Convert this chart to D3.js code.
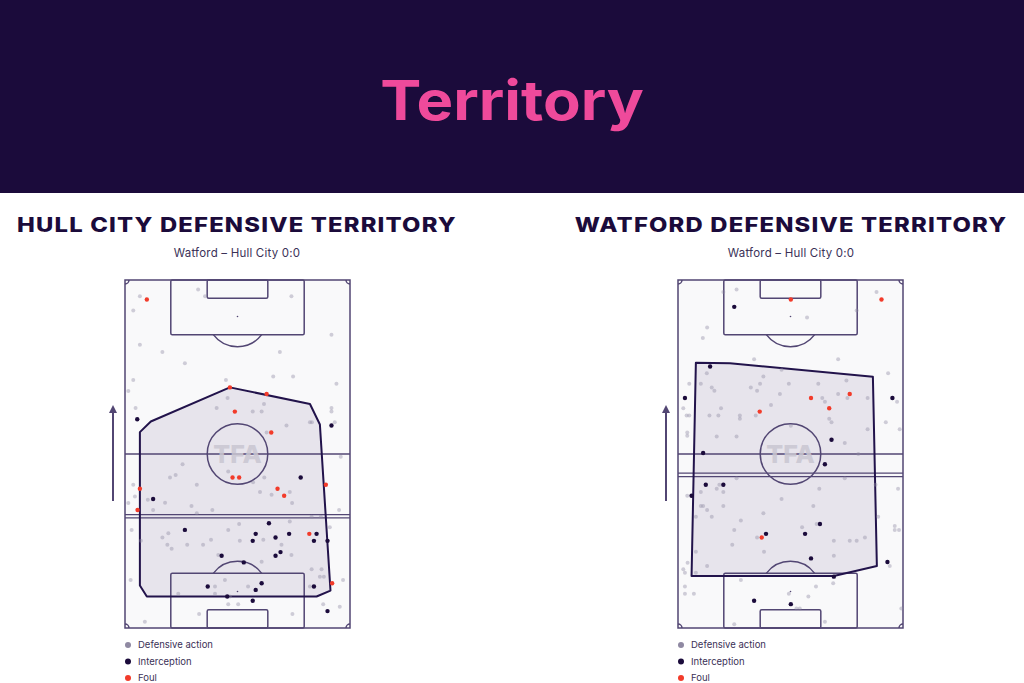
<!DOCTYPE html>
<html><head><meta charset="utf-8">
<script src="https://cdn.jsdelivr.net/npm/d3@7"></script>
<style>
html,body{margin:0;padding:0;background:#fff;}
svg{display:block;}
</style></head>
<body>
<svg id="c" width="1024" height="683"></svg>
<script>
// ---------- DATA (pitch coordinates in metres: x across 0-68, y along 0-105, attacking upwards) ----------
const mainTitle = "Territory";
const teamTitles = ["HULL CITY DEFENSIVE TERRITORY", "WATFORD DEFENSIVE TERRITORY"];
const matchLabel = "Watford – Hull City 0:0";
const legendLabels = ["Defensive action", "Interception", "Foul"];

const hullDefensive = [[22.1,102.1],[24.2,100.1],[50.3,100.1],[4.5,100.1],[2.5,95.8],[62.4,88.5],[4.5,85.5],[11.3,83.3],[46.8,83.3],[18.1,79.9],[44.8,75.9],[50.8,75.9],[2.5,74.8],[30.5,74.8],[63.9,73.7],[1.0,71.5],[31.0,69.4],[42.0,67.6],[27.7,66.4],[3.2,66.4],[62.4,66.4],[62.4,65.3],[38.6,65.3],[41.3,65.3],[55.9,62.1],[56.5,62.1],[63.4,62.1],[48.8,61.1],[42.8,59.0],[65.2,51.7],[17.4,49.4],[15.3,46.2],[13.6,45.4],[31.2,47.2],[42.1,45.4],[38.7,44.0],[21.7,43.2],[2.5,43.2],[40.8,41.0],[49.8,41.0],[44.3,40.2],[3.0,39.7],[6.9,38.7],[12.1,37.8],[50.5,37.7],[1.0,37.7],[20.1,36.8],[8.5,35.6],[26.4,35.6],[64.7,35.6],[21.7,34.6],[59.2,33.6],[56.4,33.6],[49.8,32.1],[34.5,31.4],[61.9,30.4],[2.0,29.6],[31.2,29.6],[13.1,28.6],[11.3,27.3],[4.8,26.3],[26.0,26.6],[41.8,26.6],[34.7,26.3],[12.8,25.1],[14.1,23.9],[18.8,25.1],[23.6,25.1],[47.3,25.1],[28.2,22.0],[50.3,22.0],[41.3,20.0],[56.4,17.7],[59.4,17.7],[60.1,15.5],[65.9,14.5],[58.9,15.5],[30.2,14.5],[27.2,12.5],[37.2,12.5],[55.9,12.5],[1.7,14.5],[27.2,10.3],[16.1,10.3],[31.7,9.5],[31.2,7.2],[34.2,7.2],[59.9,7.2],[22.4,4.2],[50.6,4.2],[6.0,1.9],[64.9,6.4]];
const hullInterceptions = [[3.7,63.0],[62.4,61.1],[53.1,45.4],[8.5,38.9],[43.5,31.6],[18.1,29.6],[39.5,28.4],[45.5,27.3],[49.6,28.4],[57.9,28.4],[38.6,26.3],[57.1,26.3],[61.2,26.3],[29.2,21.8],[45.5,21.8],[47.0,22.9],[35.9,19.8],[41.3,13.5],[25.0,12.5],[39.5,11.5],[30.9,9.5],[38.6,8.2],[57.1,12.5],[61.2,5.1]];
const hullFouls = [[6.6,99.1],[31.7,72.6],[42.8,70.6],[33.2,65.3],[44.2,59.0],[32.5,45.4],[34.5,45.4],[4.5,42.0],[46.1,42.0],[48.1,39.9],[3.8,35.6],[60.7,43.2],[55.7,28.4],[62.6,13.5]];
const hullTerritory = [[4.5,59.1],[7.8,62.3],[31.7,72.6],[55.9,67.6],[58.9,61.4],[62.1,11.3],[57.9,9.5],[6.6,9.5],[4.5,12.8]];
const hullLine = 33.7;

const watDefensive = [[17.7,102.1],[13.7,101.4],[60.0,101.4],[54.0,95.8],[39.0,93.7],[8.8,90.7],[7.5,87.5],[23.0,81.1],[48.4,81.1],[31.3,77.9],[8.7,76.9],[63.5,76.9],[25.8,75.9],[50.9,74.7],[3.4,73.7],[6.9,73.7],[24.8,73.7],[33.5,73.7],[42.4,73.7],[10.2,72.6],[11.0,71.6],[22.0,72.6],[23.9,71.6],[30.8,70.6],[48.4,70.6],[57.3,69.4],[51.2,69.4],[43.6,69.4],[44.4,68.3],[66.2,68.3],[28.1,67.3],[1.6,66.3],[13.0,66.3],[23.5,64.1],[2.6,64.1],[3.4,64.1],[9.5,64.1],[12.2,64.1],[18.7,64.1],[18.7,63.1],[45.7,63.1],[46.4,62.1],[62.8,62.1],[34.1,61.0],[57.3,60.0],[67.0,60.0],[2.8,59.0],[2.8,58.0],[11.7,57.8],[17.7,57.8],[50.4,55.8],[54.5,52.5],[17.7,45.2],[50.4,45.2],[59.7,43.2],[12.5,43.2],[11.7,42.0],[42.7,42.0],[66.5,42.0],[13.7,41.0],[6.9,41.0],[2.8,39.9],[31.3,38.9],[6.9,36.8],[7.6,36.8],[13.7,36.8],[40.9,36.8],[8.8,35.6],[25.8,34.6],[5.4,33.6],[10.2,33.6],[60.5,33.6],[19.0,32.4],[41.9,31.4],[65.5,30.8],[65.5,29.6],[66.8,29.6],[37.5,30.4],[17.0,29.6],[23.9,27.3],[56.5,27.3],[54.0,26.3],[51.9,26.3],[47.1,26.3],[16.4,25.1],[5.4,23.0],[47.1,21.8],[26.0,23.0],[8.8,18.7],[2.9,19.7],[1.6,17.7],[2.1,16.7],[5.4,16.7],[64.0,18.7],[19.0,14.5],[46.9,13.5],[41.7,12.5],[2.1,12.5],[2.1,10.3],[4.8,10.3],[33.5,10.3],[39.4,9.5],[35.8,5.9],[36.8,5.9],[67.5,5.9],[44.4,1.9],[17.0,1.1]];
const watInterceptions = [[17.0,96.9],[9.7,78.9],[2.1,69.4],[64.8,69.4],[46.4,56.8],[7.6,52.8],[44.4,49.4],[8.4,43.2],[13.7,43.2],[4.1,39.9],[42.9,31.4],[26.6,28.4],[38.4,28.4],[40.2,21.0],[63.3,19.9],[47.1,15.5],[23.0,8.2],[34.1,7.2]];
const watFouls = [[34.1,99.1],[61.5,99.1],[40.2,69.4],[51.9,70.6],[45.7,66.3],[24.7,65.3],[25.3,27.3]];
const watTerritory = [[5.4,80.0],[15.7,79.9],[58.9,75.8],[60.1,18.7],[47.1,15.7],[4.1,15.7]];
const watLine = 46.2;

// ---------- STYLE ----------
const C = {
  header: "#1b0b3b", pink: "#ef4a9b", ink: "#1b0b3b", sub: "#3b3157",
  line: "#524673", hullStroke: "#22134b", hullFill: "#e7e4ec", pitch: "#f9f9fa",
  grey: "#8f89a2", dark: "#1b0b3b", red: "#f23b2a"
};
const svg = d3.select("#c");
svg.append("rect").attr("x",0).attr("y",0).attr("width",1024).attr("height",683).attr("fill","#fff");
svg.append("rect").attr("x",0).attr("y",0).attr("width",1024).attr("height",193).attr("fill",C.header);
svg.append("g").attr("transform","translate(512,120) scale(1.12,1)")
  .append("text").attr("x",0).attr("y",0).attr("text-anchor","middle")
  .attr("font-family","Inter, 'Open Sans', sans-serif").attr("font-weight",700).attr("font-size",55)
  .attr("fill",C.pink).text(mainTitle);

const defs = svg.append("defs");
defs.append("marker").attr("id","arrow").attr("viewBox","0 0 10 10").attr("refX",5).attr("refY",5)
  .attr("markerWidth",4).attr("markerHeight",4).attr("orient","auto")
  .append("path").attr("d","M0,0 L10,5 L0,10 Z").attr("fill",C.line);

function panel(cx, x0, title, defensive, interceptions, fouls, territory, lineY) {
  const g = svg.append("g");
  g.append("g").attr("transform",`translate(${cx},231.5) scale(1.19,1)`)
    .append("text").attr("x",0).attr("y",0).attr("text-anchor","middle")
    .attr("font-family","Inter, sans-serif").attr("font-weight",800).attr("font-size",20)
    .attr("letter-spacing",1).attr("fill",C.ink).text(title);
  g.append("text").attr("x",cx).attr("y",257).attr("text-anchor","middle")
    .attr("font-family","Inter, sans-serif").attr("font-size",11.5).attr("letter-spacing",0.2).attr("fill",C.sub).text(matchLabel);

  const x = d3.scaleLinear().domain([0,68]).range([x0, x0+225]);
  const y = d3.scaleLinear().domain([0,105]).range([628, 280]);
  const k = (x(1)-x(0));

  g.append("rect").attr("x",x(0)).attr("y",y(105)).attr("width",x(68)-x(0)).attr("height",y(0)-y(105)).attr("fill",C.pitch);

  const line = d3.line().x(d=>x(d[0])).y(d=>y(d[1])).curve(d3.curveLinearClosed);
  g.append("path").attr("d",line(territory)).attr("fill",C.hullFill);

  const L = g.append("g").attr("fill","none").attr("stroke",C.line).attr("stroke-width",1.5);
  L.append("rect").attr("x",x(0)).attr("y",y(105)).attr("width",x(68)-x(0)).attr("height",y(0)-y(105));
  L.append("line").attr("x1",x(0)).attr("x2",x(68)).attr("y1",y(52.5)).attr("y2",y(52.5));
  L.append("circle").attr("cx",x(34)).attr("cy",y(52.5)).attr("r",9.15*k);
  [[0,16.5],[88.5,105]].forEach(b=>{
    L.append("rect").attr("x",x(13.84)).attr("y",y(b[1])).attr("width",x(54.16)-x(13.84)).attr("height",y(b[0])-y(b[1])).attr("rx",1.5);
  });
  [[0,5.5],[99.5,105]].forEach(b=>{
    L.append("rect").attr("x",x(24.84)).attr("y",y(b[1])).attr("width",x(43.16)-x(24.84)).attr("height",y(b[0])-y(b[1])).attr("rx",1.5);
  });
  const a = Math.asin(5.5/9.15);
  const p1 = d3.path(); p1.arc(x(34), y(94), 9.15*k, a, Math.PI-a);
  const p2 = d3.path(); p2.arc(x(34), y(11), 9.15*k, Math.PI+a, 2*Math.PI-a);
  L.append("path").attr("d",p1.toString());
  L.append("path").attr("d",p2.toString());
  const corners = [[0,105,0,Math.PI/2],[68,105,Math.PI/2,Math.PI],[0,0,-Math.PI/2,0],[68,0,Math.PI,1.5*Math.PI]];
  corners.forEach(c=>{ const p=d3.path(); p.arc(x(c[0]),y(c[1]),1.2*k,c[2],c[3]); L.append("path").attr("d",p.toString()); });
  g.append("circle").attr("cx",x(34)).attr("cy",y(94)).attr("r",0.8).attr("fill",C.line);
  g.append("circle").attr("cx",x(34)).attr("cy",y(11)).attr("r",0.8).attr("fill",C.line);

  g.append("text").attr("x",x(34)).attr("y",y(52.5)+9).attr("text-anchor","middle")
    .attr("font-family","Inter, sans-serif").attr("font-weight",800).attr("font-size",25)
    .attr("fill","#c9c6d1").attr("opacity",0.85).text("TFA");

  [lineY+0.5, lineY-0.5].forEach(v=>{
    g.append("line").attr("x1",x(0)).attr("x2",x(68)).attr("y1",y(v)).attr("y2",y(v))
      .attr("stroke",C.line).attr("stroke-width",1.2);
  });

  g.append("path").attr("d",line(territory)).attr("fill","none").attr("stroke",C.hullStroke).attr("stroke-width",2).attr("stroke-linejoin","round");

  g.append("line").attr("x1",x0-12).attr("x2",x0-12).attr("y1",501).attr("y2",409)
    .attr("stroke",C.line).attr("stroke-width",2).attr("marker-end","url(#arrow)");

  g.append("g").selectAll("circle").data(defensive).join("circle")
    .attr("cx",d=>x(d[0])).attr("cy",d=>y(d[1])).attr("r",2).attr("fill",C.grey).attr("opacity",0.4);
  g.append("g").selectAll("circle").data(interceptions).join("circle")
    .attr("cx",d=>x(d[0])).attr("cy",d=>y(d[1])).attr("r",2.2).attr("fill",C.dark);
  g.append("g").selectAll("circle").data(fouls).join("circle")
    .attr("cx",d=>x(d[0])).attr("cy",d=>y(d[1])).attr("r",2.2).attr("fill",C.red);

  const cols = [C.grey, C.dark, C.red];
  legendLabels.forEach((t,i)=>{
    const ly = 645 + i*16.5;
    g.append("circle").attr("cx",x0+3).attr("cy",ly).attr("r",3).attr("fill",cols[i]);
    g.append("text").attr("x",x0+13).attr("y",ly+3.3).attr("font-family","Inter, sans-serif")
      .attr("font-size",9.5).attr("fill",C.sub).text(t);
  });
}
panel(237, 125, teamTitles[0], hullDefensive, hullInterceptions, hullFouls, hullTerritory, hullLine);
panel(791, 678, teamTitles[1], watDefensive, watInterceptions, watFouls, watTerritory, watLine);
</script>
</body></html>
